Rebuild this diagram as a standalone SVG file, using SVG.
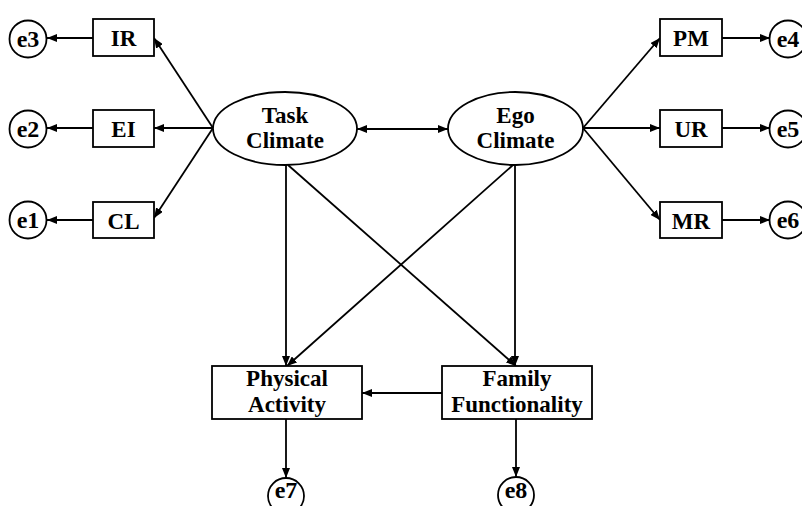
<svg xmlns="http://www.w3.org/2000/svg" width="802" height="506" viewBox="0 0 802 506">
<style>
.n{fill:#fff;stroke:#000;stroke-width:1.8}
.t{font-family:"Liberation Serif",serif;font-weight:bold;font-size:23px;text-anchor:middle;fill:#000}
.e{font-family:"Liberation Serif",serif;font-weight:bold;font-size:24px;text-anchor:middle;fill:#000}
.c{fill:none;stroke:#000;stroke-width:1.8}
</style>
<defs>
<marker id="ah" viewBox="0 0 10 8" refX="10" refY="4" markerWidth="10" markerHeight="8" markerUnits="userSpaceOnUse" orient="auto-start-reverse">
<path d="M0,0 L10,4 L0,8 z" fill="#000"/>
</marker>
</defs>
<rect width="802" height="506" fill="#fff"/>
<g id="connectors">
<line class="c" x1="93" y1="38" x2="47" y2="38" marker-end="url(#ah)"/>
<line class="c" x1="93" y1="128" x2="47" y2="128" marker-end="url(#ah)"/>
<line class="c" x1="93" y1="220" x2="47" y2="220" marker-end="url(#ah)"/>
<line class="c" x1="213" y1="128" x2="154" y2="38" marker-end="url(#ah)"/>
<line class="c" x1="213" y1="128" x2="154" y2="128" marker-end="url(#ah)"/>
<line class="c" x1="213" y1="128" x2="154" y2="218" marker-end="url(#ah)"/>
<line class="c" x1="357" y1="129" x2="448" y2="129" marker-start="url(#ah)" marker-end="url(#ah)"/>
<line class="c" x1="583" y1="128" x2="660" y2="38" marker-end="url(#ah)"/>
<line class="c" x1="583" y1="128" x2="660" y2="128" marker-end="url(#ah)"/>
<line class="c" x1="583" y1="128" x2="660" y2="220" marker-end="url(#ah)"/>
<line class="c" x1="722" y1="38" x2="770" y2="38" marker-end="url(#ah)"/>
<line class="c" x1="722" y1="128" x2="770" y2="128" marker-end="url(#ah)"/>
<line class="c" x1="722" y1="220" x2="770" y2="220" marker-end="url(#ah)"/>
<line class="c" x1="286" y1="165" x2="286" y2="366" marker-end="url(#ah)"/>
<line class="c" x1="288" y1="165" x2="516" y2="366" marker-end="url(#ah)"/>
<line class="c" x1="515" y1="165" x2="515" y2="366" marker-end="url(#ah)"/>
<line class="c" x1="513" y1="165" x2="287" y2="366" marker-end="url(#ah)"/>
<line class="c" x1="442" y1="393" x2="362" y2="393" marker-end="url(#ah)"/>
<line class="c" x1="286" y1="419" x2="286" y2="478" marker-end="url(#ah)"/>
<line class="c" x1="516" y1="419" x2="516" y2="477" marker-end="url(#ah)"/>
</g>
<g id="e3"><circle class="n" cx="28" cy="39" r="18.5"/><text class="e" x="28" y="47">e3</text></g>
<g id="e2"><circle class="n" cx="28" cy="129" r="18.5"/><text class="e" x="28" y="137">e2</text></g>
<g id="e1"><circle class="n" cx="28" cy="220" r="18.5"/><text class="e" x="28" y="228">e1</text></g>
<g id="IR"><rect class="n" x="93" y="19" width="61" height="37"/><text class="t" x="123.5" y="45.5">IR</text></g>
<g id="EI"><rect class="n" x="93" y="110" width="61" height="37"/><text class="t" x="123.5" y="136.5">EI</text></g>
<g id="CL"><rect class="n" x="93" y="202" width="61" height="36"/><text class="t" x="123.5" y="228.5">CL</text></g>
<g id="TaskClimate"><ellipse class="n" cx="285" cy="128.5" rx="72" ry="36.5"/><text class="t" x="285" y="123">Task</text><text class="t" x="285" y="148">Climate</text></g>
<g id="EgoClimate"><ellipse class="n" cx="515.5" cy="128.5" rx="67.5" ry="36.5"/><text class="t" x="515.5" y="123">Ego</text><text class="t" x="515.5" y="148">Climate</text></g>
<g id="PM"><rect class="n" x="660" y="19" width="62" height="37"/><text class="t" x="691" y="45.5">PM</text></g>
<g id="UR"><rect class="n" x="660" y="110" width="62" height="37"/><text class="t" x="691" y="136.5">UR</text></g>
<g id="MR"><rect class="n" x="660" y="202" width="62" height="36"/><text class="t" x="691" y="228.5">MR</text></g>
<g id="e4"><circle class="n" cx="788" cy="39" r="18.5"/><text class="e" x="788" y="47">e4</text></g>
<g id="e5"><circle class="n" cx="788" cy="129" r="18.5"/><text class="e" x="788" y="137">e5</text></g>
<g id="e6"><circle class="n" cx="788" cy="220" r="18.5"/><text class="e" x="788" y="228">e6</text></g>
<g id="PhysicalActivity"><rect class="n" x="212" y="366" width="150" height="53"/><text class="t" x="287" y="386">Physical</text><text class="t" x="287" y="412">Activity</text></g>
<g id="FamilyFunctionality"><rect class="n" x="442" y="366" width="150" height="53"/><text class="t" x="517" y="386">Family</text><text class="t" x="517" y="412">Functionality</text></g>
<g id="e7"><circle class="n" cx="286" cy="496" r="18"/><text class="e" x="286" y="498">e7</text></g>
<g id="e8"><circle class="n" cx="516" cy="495" r="18"/><text class="e" x="516" y="498">e8</text></g>
</svg>
